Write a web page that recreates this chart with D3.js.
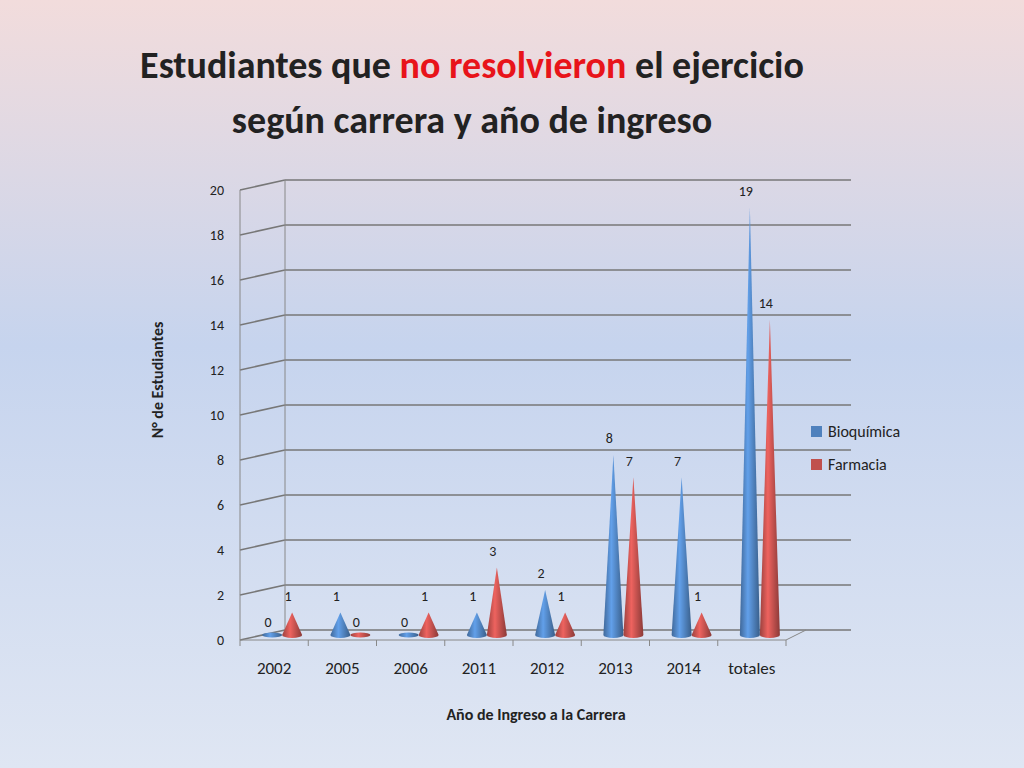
<!DOCTYPE html>
<html><head><meta charset="utf-8">
<script src="https://cdn.jsdelivr.net/npm/d3@7"></script>
<style>body{margin:0;}svg{display:block;font-family:Carlito,Calibri,"Open Sans",sans-serif;}</style>
</head><body><svg id="c" width="1024" height="768"></svg>
<script>
const categories=["2002","2005","2006","2011","2012","2013","2014","totales"];
const bioquimica=[0,1,0,1,2,8,7,19];
const farmacia=[1,0,1,3,1,7,1,14];
const yTicks=[0,2,4,6,8,10,12,14,16,18,20];
const seriesNames=["Bioquímica","Farmacia"];
const colors=["#4f81bd","#c0504d"];

const svg=d3.select("#c");
const defs=svg.append("defs");
const bg=defs.append("linearGradient").attr("id","bg").attr("x1",0).attr("y1",0).attr("x2",0).attr("y2",1);
bg.append("stop").attr("offset","0%").attr("stop-color","#f2dcdc");
bg.append("stop").attr("offset","45%").attr("stop-color","#c6d4ee");
bg.append("stop").attr("offset","100%").attr("stop-color","#dfe6f3");
svg.append("rect").attr("width",1024).attr("height",768).attr("fill","url(#bg)");

function coneGrad(id,c){
  const g=defs.append("linearGradient").attr("id",id).attr("x1",0).attr("x2",1);
  const base=d3.color(c);
  g.append("stop").attr("offset","0%").attr("stop-color",base.darker(0.6));
  g.append("stop").attr("offset","40%").attr("stop-color",base.brighter(0.6));
  g.append("stop").attr("offset","100%").attr("stop-color",base.darker(0.9));
}
coneGrad("g0",colors[0]);coneGrad("g1",colors[1]);

// title
const t1=svg.append("text").attr("x",472).attr("y",78).attr("text-anchor","middle")
  .attr("font-size",38).attr("font-weight","bold").attr("fill","#222");
t1.append("tspan").text("Estudiantes que ");
t1.append("tspan").attr("fill","#e8141a").text("no resolvieron");
t1.append("tspan").text(" el ejercicio");
svg.append("text").attr("x",472).attr("y",133).attr("text-anchor","middle")
  .attr("font-size",38).attr("font-weight","bold").attr("fill","#222").text("según carrera y año de ingreso");

// geometry
const x0=240,x1=786,dx=45,dy=-10;
const y=d3.scaleLinear().domain([0,20]).range([640,190]);
const xb=d3.scaleBand().domain(categories).range([x0,x1]);

const g=svg.append("g");
// back wall gridlines
yTicks.forEach(v=>{
  g.append("line").attr("x1",x0+dx).attr("x2",x1+dx+20).attr("y1",y(v)+dy).attr("y2",y(v)+dy).attr("stroke","#777").attr("stroke-width",1.5);
  g.append("line").attr("x1",x0).attr("x2",x0+dx).attr("y1",y(v)).attr("y2",y(v)+dy).attr("stroke","#777").attr("stroke-width",1.5);
});
// side wall / axis
g.append("line").attr("x1",x0).attr("x2",x0).attr("y1",y(0)).attr("y2",y(20)).attr("stroke","#888");
g.append("line").attr("x1",x0+dx).attr("x2",x0+dx).attr("y1",y(0)+dy).attr("y2",y(20)+dy).attr("stroke","#888");
// floor front
g.append("line").attr("x1",x0).attr("x2",x1).attr("y1",y(0)).attr("y2",y(0)).attr("stroke","#888");
g.append("line").attr("x1",x1).attr("x2",x1+20).attr("y1",y(0)).attr("y2",y(0)-10).attr("stroke","#888");
categories.forEach((c,i)=>{
  const xx=xb(c);
  g.append("line").attr("x1",xx).attr("x2",xx).attr("y1",y(0)).attr("y2",y(0)+6).attr("stroke","#888");
});
g.append("line").attr("x1",x1).attr("x2",x1).attr("y1",y(0)).attr("y2",y(0)+6).attr("stroke","#888");

// y tick labels
yTicks.forEach(v=>{
  g.append("text").attr("x",x0-16).attr("y",y(v)+5).attr("text-anchor","end").attr("font-size",14).attr("fill","#222").text(v);
});
// x labels
categories.forEach(c=>{
  g.append("text").attr("x",xb(c)+xb.bandwidth()/2).attr("y",674).attr("text-anchor","middle").attr("font-size",17).attr("fill","#222").text(c);
});

// cones
const yc=d3.scaleLinear().domain([0,20]).range([635,185]);
const hw=10;
[bioquimica,farmacia].forEach((arr,s)=>{
  arr.forEach((v,i)=>{
    const cx=xb(categories[i])+xb.bandwidth()/2+(s===0?-2:18);
    const base=yc(0);
    if(v>0){
      g.append("path").attr("d",`M${cx-hw},${base} L${cx},${yc(v)} L${cx+hw},${base} A${hw},3 0 0 1 ${cx-hw},${base} Z`).attr("fill",`url(#g${s})`);
    } else {
      g.append("ellipse").attr("cx",cx).attr("cy",base).attr("rx",hw).attr("ry",2.5).attr("fill",`url(#g${s})`);
    }
    g.append("text").attr("x",cx-4).attr("y",v>0?yc(v)-12:base-8).attr("text-anchor","middle").attr("font-size",14).attr("fill","#222").text(v);
  });
});

// axis titles
svg.append("text").attr("transform","translate(163,380) rotate(-90)").attr("text-anchor","middle")
  .attr("font-size",16).attr("font-weight","bold").attr("fill","#222").text("N° de Estudiantes");
svg.append("text").attr("x",536).attr("y",720).attr("text-anchor","middle")
  .attr("font-size",16).attr("font-weight","bold").attr("fill","#222").text("Año de Ingreso a la Carrera");

// legend
seriesNames.forEach((n,i)=>{
  svg.append("rect").attr("x",811).attr("y",426+i*33).attr("width",11).attr("height",11).attr("fill",colors[i]);
  svg.append("text").attr("x",828).attr("y",437+i*33).attr("font-size",16).attr("fill","#222").text(n);
});
</script></body></html>
